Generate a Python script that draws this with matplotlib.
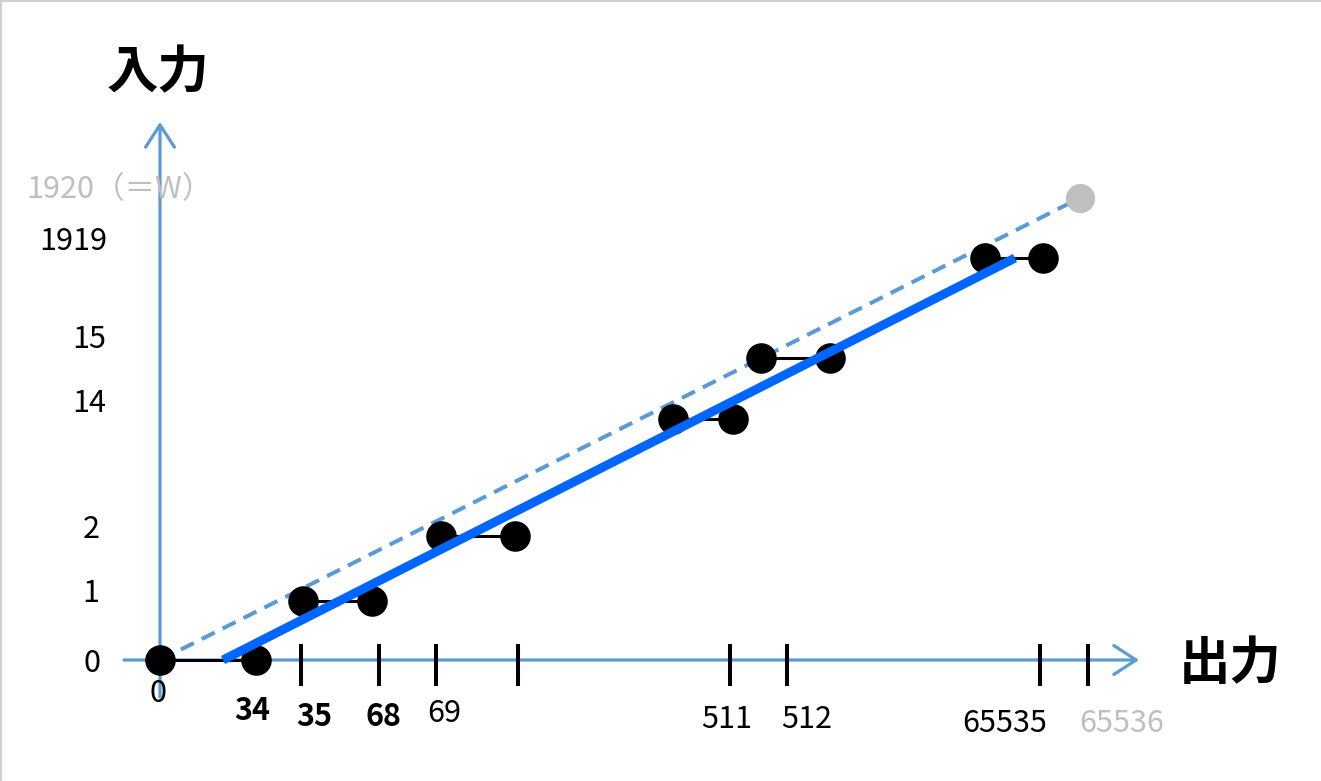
import matplotlib
matplotlib.use('Agg')
import matplotlib.pyplot as plt
from matplotlib.patches import FancyArrowPatch
from matplotlib.lines import Line2D

# Plot parameters
plt.rcParams['font.family'] = ['Noto Sans CJK JP', 'DejaVu Sans']
plt.rcParams['figure.dpi'] = 100

AXIS_BLUE = '#5B9BD5'
LINE_BLUE = '#0066FF'
GREY = '#BFBFBF'
LABEL_SIZE = 22

# Data (diagram units, origin at the axis crossing)
step_labels = ['0', '1', '2', '14', '15', '1919']
step_y = [0, 59, 124, 241, 302, 402]
step_x_start = [0, 143, 281, 513, 601, 825]
step_x_end = [96, 212, 355, 573, 670, 883]

tick_x = [141, 219, 276, 358, 570, 627, 880, 928]

x_labels = ['0', '34', '35', '68', '69', '511', '512', '65535', '65536']
x_label_bold = [False, True, True, True, False, False, False, False, False]
x_label_grey = [False, False, False, False, False, False, False, False, True]

ideal_end = (920, 462)          # 65536 -> 1920 (=W)
fit_start = (63, 0)
fit_end = (855, 402)

# Figure
fig = plt.figure(figsize=(13.21, 7.81))
ax = fig.add_axes([0, 0, 1, 1])
ax.set_xlim(-160, 1161)
ax.set_ylim(-121, 660)
ax.axis('off')

# axes with open arrow heads
for start, end in [((-36, 0), (979, 0)), ((0, -37), (0, 538))]:
    arr = FancyArrowPatch(start, end, arrowstyle='->,head_length=0.8,head_width=0.52',
                          mutation_scale=20, color=AXIS_BLUE, lw=2.3, zorder=1,
                          shrinkA=0, shrinkB=0)
    ax.add_patch(arr)

# ticks on the output axis
ax.vlines(tick_x, -26, 16, colors='black', lw=2.9, zorder=2)

# ideal line (dashed) and the grey end point
ax.plot([0, ideal_end[0]], [0, ideal_end[1]], color=AXIS_BLUE, lw=2.9,
        dashes=(3.6, 2.2), zorder=2)
ax.plot([ideal_end[0]], [ideal_end[1]], 'o', color=GREY, ms=20, zorder=3)

# steps
for xs, xe, y in zip(step_x_start, step_x_end, step_y):
    ax.plot([xs, xe], [y, y], color='black', lw=2.2, zorder=3)
    ax.plot([xs, xe], [y, y], 'o', color='black', ms=21, zorder=4)

# fitted line
ax.plot([fit_start[0], fit_end[0]], [fit_start[1], fit_end[1]], color=LINE_BLUE,
        lw=6.5, solid_capstyle='butt', zorder=5)

# y labels
y_label_pos = [(-68, -3), (-69, 66), (-69, 130), (-71, 257), (-71, 320), (-87, 418)]
for lab, (px, py) in zip(step_labels, y_label_pos):
    ax.text(px, py, lab, fontsize=LABEL_SIZE, ha='center', va='center', color='black')
ax.text(-41, 470, '1920（＝W）', fontsize=LABEL_SIZE, ha='center', va='center', color=GREY)

# x labels
x_label_pos = [(-2, -33), (92, -51), (154, -57), (223, -57), (284, -54),
               (567, -60), (647, -60), (845, -63), (962, -63)]
for lab, (px, py), b, g in zip(x_labels, x_label_pos, x_label_bold, x_label_grey):
    ax.text(px, py, lab, fontsize=LABEL_SIZE, ha='center', va='center',
            color=GREY if g else 'black', fontweight='bold' if b else 'normal')

# axis titles
ax.text(-2, 587, '入力', fontsize=37, fontweight='bold', ha='center', va='center')
ax.text(1070, -3, '出力', fontsize=37, fontweight='bold', ha='center', va='center')

# light frame on top and left edges
fig.add_artist(Line2D([0, 1], [0.999, 0.999], color='#D0D0D0', lw=1.5))
fig.add_artist(Line2D([0.001, 0.001], [0, 1], color='#D0D0D0', lw=1.5))

plt.savefig('out.png', dpi=100)
